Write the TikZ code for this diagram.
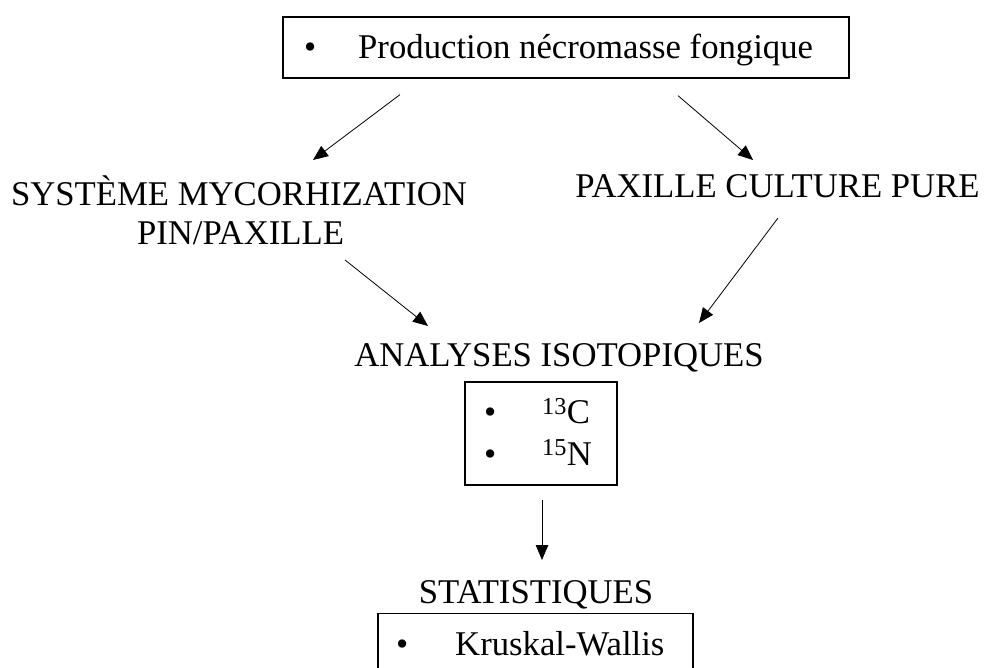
\documentclass[tikz,border=0pt]{standalone}
\usepackage{fontspec}
\setmainfont{Liberation Serif}
\usetikzlibrary{arrows.meta}
\begin{document}
\begin{tikzpicture}[x=1pt,y=-1pt,
  txt/.style={inner sep=0pt, font=\fontsize{34.7}{40}\selectfont},
  boxed/.style={draw, line width=1.3pt, inner sep=0pt},
  arr/.style={line width=0.8pt, -{Triangle[length=15pt,width=12.5pt]}}]
\clip (0,0) rectangle (986,668);
\fill[white] (0,0) rectangle (986,668);
% top box
\node[boxed, minimum width=566pt, minimum height=61pt] (topbox) at (566,47.5) {};
\node[txt, anchor=base west] (topbul) at (304,59) {\textbullet};
\node[txt, anchor=base west] (toptxt) at (358,59) {Production nécromasse fongique};
% second level
\node[txt, anchor=base] (sysA) at (239,206) {SYSTÈME MYCORHIZATION};
\node[txt, anchor=base] (sysB) at (240.5,245) {PIN/PAXILLE};
\node[txt, anchor=base] (paxc) at (777.5,198) {PAXILLE CULTURE PURE};
% isotopic analyses
\node[txt, anchor=base] (anal) at (559,367) {ANALYSES ISOTOPIQUES};
\node[boxed, minimum width=152pt, minimum height=103pt] (isobox) at (541,433.5) {};
\node[txt, anchor=base west] (isobulA) at (484,424) {\textbullet};
\node[txt, anchor=base west] (isoC) at (542,424) {\textsuperscript{13}C};
\node[txt, anchor=base west] (isobulB) at (484,465) {\textbullet};
\node[txt, anchor=base west] (isoN) at (542,465) {\textsuperscript{15}N};
% statistics
\node[txt, anchor=base] (stat) at (536,603) {STATISTIQUES};
\node[boxed, minimum width=315pt, minimum height=110pt, anchor=north] (statbox) at (535.5,613) {};
\node[txt, anchor=base west] (statbul) at (396,655) {\textbullet};
\node[txt, anchor=base west] (stattxt) at (455,655) {Kruskal-Wallis};
% connectors
\draw[arr] ([shift={(-166,16)}]topbox.south) -- ([shift={(74,-46)}]sysA.base);
\draw[arr] ([shift={(112,17)}]topbox.south) -- ([shift={(-24.5,-38)}]paxc.base);
\draw[arr] ([shift={(104.5,15)}]sysB.base) -- ([shift={(-131,-41)}]anal.base);
\draw[arr] ([shift={(0.5,20)}]paxc.base) -- ([shift={(140,-44)}]anal.base);
\draw[arr] ([shift={(1,14)}]isobox.south) -- ([shift={(6,-43)}]stat.base);
\end{tikzpicture}
\end{document}
